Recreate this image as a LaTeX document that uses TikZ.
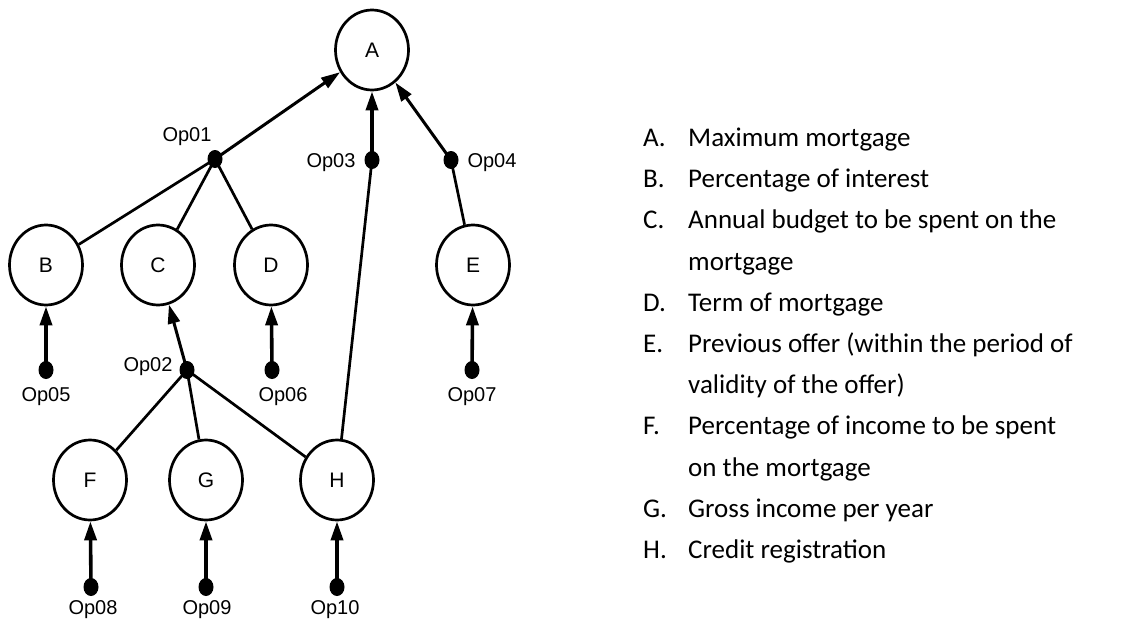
\documentclass[tikz,border=0pt]{standalone}
\usepackage{fontspec}
\setmainfont{Liberation Sans}
\newfontfamily\listfont{Carlito}
\usetikzlibrary{shapes.geometric,arrows.meta}
\begin{document}
\begin{tikzpicture}[x=1pt,y=-1pt,
  varnode/.style={ellipse,draw,line width=2.7pt,minimum width=73pt,minimum height=80pt,inner sep=0pt,font=\fontsize{21}{24}\selectfont},
  opdot/.style={ellipse,fill=black,minimum width=15pt,minimum height=18pt,inner sep=0pt},
  oplabel/.style={inner sep=0pt,font=\fontsize{20}{24}\selectfont},
  link/.style={line width=2.7pt},
  feed/.style={line width=3.6pt,-{Triangle[length=19pt,width=12pt]}},
  listitem/.style={anchor=base west,inner sep=0pt,font=\listfont\fontsize{27}{32}\selectfont}
]
\useasboundingbox (0,0) rectangle (1126,626);

% variables
\node[varnode] (A) at (372,50) {A};
\node[varnode] (B) at (46,265) {B};
\node[varnode] (C) at (158,265) {C};
\node[varnode] (D) at (271,265) {D};
\node[varnode] (E) at (473,265) {E};
\node[varnode] (F) at (90,480) {F};
\node[varnode] (G) at (206,480) {G};
\node[varnode] (H) at (337,480) {H};

% operators
\node[opdot] (op1) at (215,159) {};
\node[opdot] (op2) at (187,370) {};
\node[opdot] (op3) at (372,160) {};
\node[opdot] (op4) at (451,160) {};
\node[opdot] (op5) at (46,370) {};
\node[opdot] (op6) at (272,370) {};
\node[opdot] (op7) at (472,370) {};
\node[opdot] (op8) at (91,587) {};
\node[opdot] (op9) at (206,587) {};
\node[opdot] (op10) at (337,587) {};

\node[oplabel] (l1) at (187,137) {Op01};
\node[oplabel] (l2) at (148,367) {Op02};
\node[oplabel] (l3) at (331,163) {Op03};
\node[oplabel] (l4) at (492,163) {Op04};
\node[oplabel] (l5) at (46,397) {Op05};
\node[oplabel] (l6) at (283,397) {Op06};
\node[oplabel] (l7) at (472,397) {Op07};
\node[oplabel] (l8) at (93,610) {Op08};
\node[oplabel] (l9) at (207,610) {Op09};
\node[oplabel] (l10) at (335,610) {Op10};

% inputs to operators
\draw[link] (B) -- (op1.center);
\draw[link] (C) -- (op1.center);
\draw[link] (D) -- (op1.center);
\draw[link] (F) -- (op2.center);
\draw[link] (G) -- (op2.center);
\draw[link] (H) -- (op2.center);
\draw[link] (H) -- (op3.center);
\draw[link] (E) -- (op4.center);

% outputs of operators
\draw[feed,line width=3pt] (op1.center) -- (A);
\draw[feed,line width=3pt] (op2.center) -- (C);
\draw[feed] (op3.center) -- (A);
\draw[feed,line width=3pt] (op4.center) -- (A);
\draw[feed] (op5.center) -- (B);
\draw[feed] (op6.center) -- (D);
\draw[feed] (op7.center) -- (E);
\draw[feed] (op8.center) -- (F);
\draw[feed] (op9.center) -- (G);
\draw[feed] (op10.center) -- (H);

% legend
\node[listitem] (kA) at (643,146.5) {A.};
\node[listitem] (tA) at (688,146.5) {Maximum mortgage};
\node[listitem] (kB) at (643,187.7) {B.};
\node[listitem] (tB) at (688,187.7) {Percentage of interest};
\node[listitem] (kC) at (643,228.9) {C.};
\node[listitem] (tC) at (688,228.9) {Annual budget to be spent on the};
\node[listitem] (tC2) at (688,270.1) {mortgage};
\node[listitem] (kD) at (643,311.3) {D.};
\node[listitem] (tD) at (688,311.3) {Term of mortgage};
\node[listitem] (kE) at (643,352.5) {E.};
\node[listitem] (tE) at (688,352.5) {Previous offer (within the period of};
\node[listitem] (tE2) at (688,393.7) {validity of the offer)};
\node[listitem] (kF) at (643,434.9) {F.};
\node[listitem] (tF) at (688,434.9) {Percentage of income to be spent};
\node[listitem] (tF2) at (688,476.1) {on the mortgage};
\node[listitem] (kG) at (643,517.3) {G.};
\node[listitem] (tG) at (688,517.3) {Gross income per year};
\node[listitem] (kH) at (643,558.5) {H.};
\node[listitem] (tH) at (688,558.5) {Credit registration};
\end{tikzpicture}
\end{document}
